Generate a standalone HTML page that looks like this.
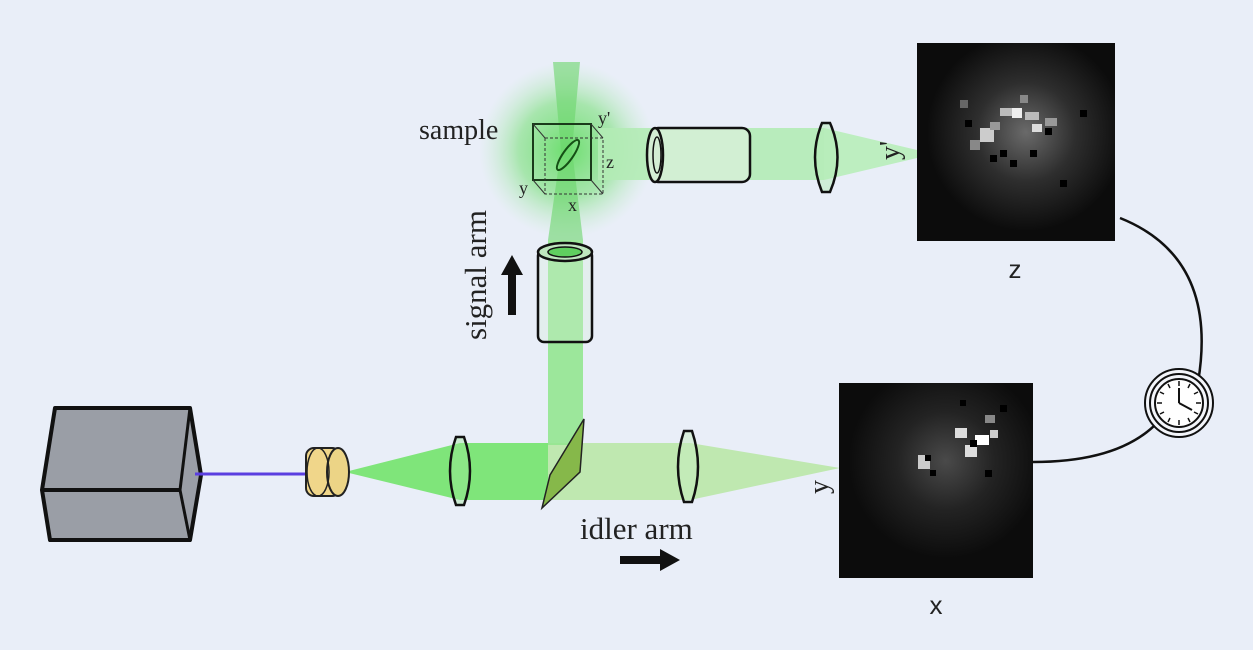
<!DOCTYPE html>
<html><head><meta charset="utf-8"><style>
html,body{margin:0;padding:0;background:#e9eef8;}
svg{display:block}
.serif{font-family:"Liberation Serif",serif;}
.sans{font-family:"Liberation Sans",sans-serif;}
</style></head><body>
<svg width="1253" height="650" viewBox="0 0 1253 650" xmlns="http://www.w3.org/2000/svg">
<defs>
<radialGradient id="glow" cx="0.5" cy="0.5" r="0.5">
<stop offset="0" stop-color="#5fdc5f" stop-opacity="0.9"/>
<stop offset="0.55" stop-color="#7be07b" stop-opacity="0.6"/>
<stop offset="1" stop-color="#b8ecbd" stop-opacity="0"/>
</radialGradient>
<radialGradient id="imz" cx="0.55" cy="0.45" r="0.5">
<stop offset="0" stop-color="#6a6a6a"/>
<stop offset="0.5" stop-color="#2e2e2e"/>
<stop offset="1" stop-color="#0c0c0c"/>
</radialGradient>
<radialGradient id="imx" cx="0.55" cy="0.4" r="0.5">
<stop offset="0" stop-color="#4a4a4a"/>
<stop offset="0.5" stop-color="#232323"/>
<stop offset="1" stop-color="#0c0c0c"/>
</radialGradient>
</defs>
<rect width="1253" height="650" fill="#e9eef8"/>

<!-- laser box -->
<polygon points="55,408 190,408 201,475 190,540 50,540 42,490" fill="#9a9ea6" stroke="#111" stroke-width="4" stroke-linejoin="round"/>
<line x1="42" y1="490" x2="180" y2="490" stroke="#111" stroke-width="4"/>
<line x1="190" y1="408" x2="180" y2="490" stroke="#111" stroke-width="3"/>
<line x1="180" y1="490" x2="190" y2="540" stroke="#111" stroke-width="3"/>
<line x1="195" y1="474" x2="310" y2="474" stroke="#5a3ee0" stroke-width="3"/>

<polygon points="540,443 690,443 840,468 690,500 540,500" fill="#bfe8b0"/>
<polygon points="345,472 460,443 548,443 548,500 460,500" fill="#7fe57a"/>
<rect x="548" y="240" width="35" height="205" fill="#93e690" opacity="0.9"/>
<circle cx="567" cy="150" r="88" fill="url(#glow)"/>
<polygon points="553,62 580,62 572,150 561,150" fill="#6ad66a" opacity="0.6"/>
<polygon points="561,150 572,150 583,240 548,240" fill="#6ad66a" opacity="0.6"/>
<rect x="598" y="128" width="226" height="52" fill="#b3ebb5" opacity="0.9"/>
<polygon points="824,128 917,150 917,158 824,180" fill="#bdeec0"/>

<!-- collimator -->
<rect x="306" y="448" width="34" height="48" rx="8" fill="#f0d68a" stroke="#222" stroke-width="2"/>
<ellipse cx="338" cy="472" rx="11" ry="24" fill="#ecd486" stroke="#222" stroke-width="2"/>
<ellipse cx="318" cy="472" rx="11" ry="24" fill="none" stroke="#222" stroke-width="1.5"/>

<!-- lenses -->
<path d="M456,437 L464,437 Q476,471 464,505 L456,505 Q444,471 456,437Z" fill="#9fe89a" fill-opacity="0.4" stroke="#111" stroke-width="2.5"/>
<path d="M684,431 L692,431 Q704,467 692,502 L684,502 Q672,467 684,431Z" fill="#c8eec0" fill-opacity="0.5" stroke="#111" stroke-width="2.5"/>
<path d="M822,123 L830,123 Q845,157 830,192 L822,192 Q808,157 822,123Z" fill="#b3ebb5" fill-opacity="0.5" stroke="#111" stroke-width="2.5"/>

<polygon points="550,475 584,419 580,472 542,508" fill="#86b84a" stroke="#222" stroke-width="1.5"/>

<rect x="538" y="250" width="54" height="92" rx="6" fill="#d8f0d8" fill-opacity="0.3" stroke="#111" stroke-width="2.5"/>
<ellipse cx="565" cy="252" rx="27" ry="9" fill="#bfe6bf" stroke="#111" stroke-width="2.5"/>
<ellipse cx="565" cy="252" rx="17" ry="5" fill="#5fcf5f" stroke="#111" stroke-width="1.5"/>

<rect x="650" y="128" width="100" height="54" rx="8" fill="#e3f2e3" fill-opacity="0.6" stroke="#111" stroke-width="2.5"/>
<ellipse cx="655" cy="155" rx="8" ry="27" fill="#d4eed4" stroke="#111" stroke-width="2.5"/>
<ellipse cx="657" cy="155" rx="4" ry="18" fill="none" stroke="#111" stroke-width="1.5"/>

<!-- sample cube -->
<rect x="533" y="124" width="58" height="56" fill="none" stroke="#1a3a1a" stroke-width="2"/>
<rect x="545" y="138" width="58" height="56" fill="none" stroke="#333" stroke-width="1" stroke-dasharray="3,2"/>
<line x1="533" y1="124" x2="545" y2="138" stroke="#333" stroke-width="1"/>
<line x1="591" y1="124" x2="603" y2="138" stroke="#333" stroke-width="1"/>
<line x1="533" y1="180" x2="545" y2="194" stroke="#333" stroke-width="1"/>
<line x1="591" y1="180" x2="603" y2="194" stroke="#333" stroke-width="1"/>
<ellipse cx="568" cy="155" rx="5" ry="18" transform="rotate(35 568 155)" fill="none" stroke="#155015" stroke-width="2"/>
<text x="598" y="124" class="serif" font-size="18" fill="#222">y'</text>
<text x="606" y="168" class="serif" font-size="18" fill="#222">z</text>
<text x="519" y="194" class="serif" font-size="18" fill="#222">y</text>
<text x="568" y="211" class="serif" font-size="18" fill="#222">x</text>
<text x="419" y="139" class="serif" font-size="28" fill="#222">sample</text>

<text transform="translate(486,340) rotate(-90)" class="serif" font-size="31" fill="#222">signal arm</text>
<polygon points="512,255 523,275 516,275 516,315 508,315 508,275 501,275" fill="#111"/>

<text x="580" y="539" class="serif" font-size="31" fill="#222">idler arm</text>
<polygon points="680,560 660,549 660,556 620,556 620,564 660,564 660,571" fill="#111"/>

<text transform="translate(899,160) rotate(-90)" class="serif" font-size="28" fill="#222">y'</text>
<text transform="translate(828,494) rotate(-90)" class="serif" font-size="28" fill="#222">y</text>

<!-- Z image -->
<rect x="917" y="43" width="198" height="198" fill="url(#imz)"/>
<g fill="#bbb">
<rect x="1000" y="108" width="12" height="8"/><rect x="1012" y="108" width="10" height="10" fill="#eee"/>
<rect x="1025" y="112" width="14" height="8"/><rect x="1045" y="118" width="12" height="8" fill="#999"/>
<rect x="980" y="128" width="14" height="14" fill="#ccc"/><rect x="1032" y="124" width="10" height="8" fill="#ddd"/>
<rect x="990" y="122" width="10" height="8" fill="#999"/><rect x="960" y="100" width="8" height="8" fill="#666"/>
<rect x="970" y="140" width="10" height="10" fill="#888"/><rect x="1020" y="95" width="8" height="8" fill="#888"/>
</g>
<g fill="#000">
<rect x="965" y="120" width="7" height="7"/><rect x="1000" y="150" width="7" height="7"/>
<rect x="1045" y="128" width="7" height="7"/><rect x="1080" y="110" width="7" height="7"/>
<rect x="1030" y="150" width="7" height="7"/><rect x="1060" y="180" width="7" height="7"/>
<rect x="990" y="155" width="7" height="7"/><rect x="1010" y="160" width="7" height="7"/>
</g>
<text x="1015" y="278" class="sans" font-size="26" fill="#222" text-anchor="middle">z</text>

<!-- X image -->
<rect x="839" y="383" width="194" height="195" fill="url(#imx)"/>
<g fill="#ccc">
<rect x="955" y="428" width="12" height="10" fill="#ddd"/><rect x="975" y="435" width="14" height="10" fill="#fff"/>
<rect x="965" y="445" width="12" height="12" fill="#ddd"/><rect x="918" y="455" width="12" height="14"/>
<rect x="990" y="430" width="8" height="8"/><rect x="985" y="415" width="10" height="8" fill="#888"/>
</g>
<g fill="#000">
<rect x="925" y="455" width="6" height="6"/><rect x="930" y="470" width="6" height="6"/>
<rect x="970" y="440" width="7" height="7"/><rect x="1000" y="405" width="7" height="7"/>
<rect x="985" y="470" width="7" height="7"/><rect x="960" y="400" width="6" height="6"/>
</g>
<text x="936" y="614" class="sans" font-size="26" fill="#222" text-anchor="middle">x</text>

<path d="M1120,218 Q1225,260 1195,398" fill="none" stroke="#111" stroke-width="2.5"/>
<path d="M1033,462 Q1120,462 1158,422" fill="none" stroke="#111" stroke-width="2.5"/>
<circle cx="1179" cy="403" r="34" fill="#f3f5fa" stroke="#111" stroke-width="2"/>
<circle cx="1179" cy="403" r="29" fill="none" stroke="#111" stroke-width="2"/>
<circle cx="1179" cy="403" r="24" fill="#fff" stroke="#111" stroke-width="2"/>
<g stroke="#111" stroke-width="1.5">
<line x1="1179" y1="381" x2="1179" y2="386"/><line x1="1179" y1="420" x2="1179" y2="425"/>
<line x1="1157" y1="403" x2="1162" y2="403"/><line x1="1196" y1="403" x2="1201" y2="403"/>
<line x1="1190" y1="384" x2="1188" y2="388"/><line x1="1168" y1="384" x2="1170" y2="388"/>
<line x1="1190" y1="422" x2="1188" y2="418"/><line x1="1168" y1="422" x2="1170" y2="418"/>
<line x1="1160" y1="392" x2="1164" y2="394"/><line x1="1198" y1="392" x2="1194" y2="394"/>
<line x1="1160" y1="414" x2="1164" y2="412"/><line x1="1198" y1="414" x2="1194" y2="412"/>
</g>
<line x1="1179" y1="403" x2="1179" y2="388" stroke="#111" stroke-width="2"/>
<line x1="1179" y1="403" x2="1192" y2="410" stroke="#111" stroke-width="2"/>
</svg>
</body></html>
